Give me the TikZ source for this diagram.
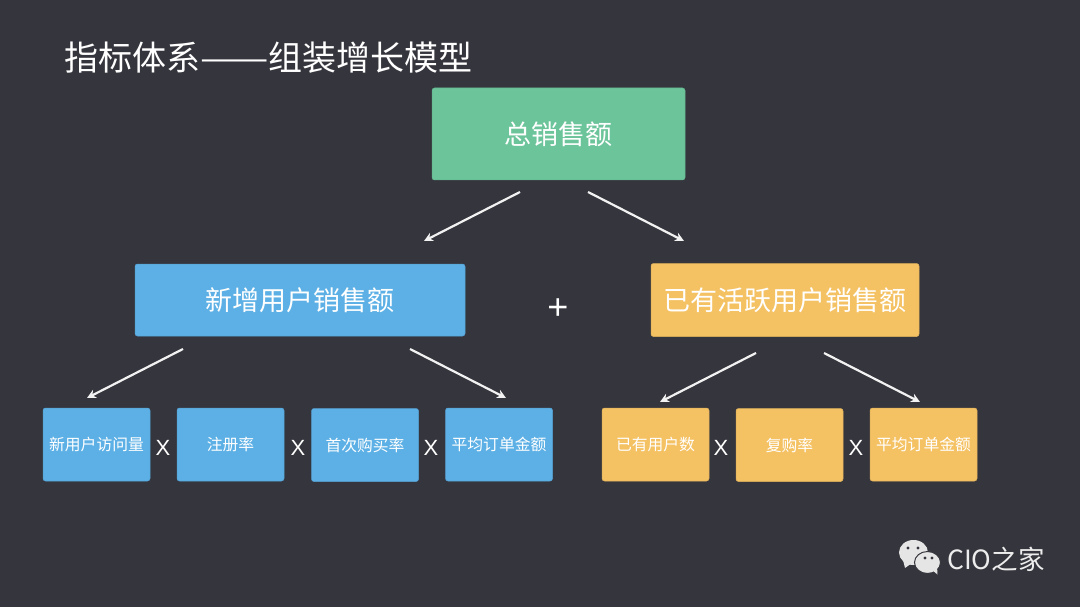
\documentclass[tikz,border=0pt]{standalone}
\usepackage{fontspec}
\setmainfont{Noto Sans CJK SC}
\newfontfamily\latinfont{Liberation Sans}
\usetikzlibrary{arrows.meta}
\definecolor{boardbg}{HTML}{35353D}
\definecolor{greenbox}{HTML}{6CC49A}
\definecolor{bluebox}{HTML}{5CB0E5}
\definecolor{yellowbox}{HTML}{F4C163}
\tikzset{
  box/.style={rectangle,rounded corners=2.5pt,draw=#1!92!black,line width=.5pt,fill=#1,text=white,inner sep=0pt,outer sep=0pt},
  bigbox/.style={box=#1,minimum height=72pt,font=\fontsize{27}{30}\selectfont},
  smallbox/.style={box=#1,minimum width=107pt,minimum height=73pt,font=\fontsize{15.8}{18}\selectfont},
  times/.style={text=white,inner sep=0pt,font=\latinfont\fontsize{22}{26}\selectfont},
  link/.style={draw=white!95!black,line width=2.2pt,-{Stealth[length=9pt,width=9pt]}},
}
\begin{document}
\begin{tikzpicture}[x=1pt,y=-1pt]
\useasboundingbox[fill=boardbg] (0,0) rectangle (1080,607);
\node [text=white,anchor=west,inner sep=0pt,font=\fontsize{34}{38}\selectfont] (title) at (64,58) {指标体系\scalebox{1.2}[1]{——}组装增长模型};

% top level
\node [bigbox=greenbox,minimum width=253pt,minimum height=92pt] (total) at (558.5,134) {总销售额};
\node [bigbox=bluebox,minimum width=330pt] (newuser) at (300,300) {新增用户销售额};
\node [bigbox=yellowbox,minimum width=268pt,minimum height=73pt] (olduser) at (785,300) {已有活跃用户销售额};
\node [text=white,inner sep=0pt,font=\latinfont\fontsize{36}{38}\selectfont] (plus) at (558,309) {+};

% factors of the new users
\node [smallbox=bluebox] (visit) at (96.5,444.5) {新用户访问量};
\node [smallbox=bluebox] (signup) at (230.5,444.5) {注册率};
\node [smallbox=bluebox] (firstbuy) at (365,445) {首次购买率};
\node [smallbox=bluebox] (avgnew) at (499,444.5) {平均订单金额};
\node [times] (xa) at (163,448) {X};
\node [times] (xb) at (298,448) {X};
\node [times] (xc) at (431,448) {X};

% factors of the active users
\node [smallbox=yellowbox] (users) at (655.5,444.5) {已有用户数};
\node [smallbox=yellowbox] (rebuy) at (789.5,445) {复购率};
\node [smallbox=yellowbox] (avgold) at (923.5,444.5) {平均订单金额};
\node [times] (xd) at (721,448) {X};
\node [times] (xe) at (856,448) {X};

% arrows stop short of the boxes
\coordinate (ta) at (520,192);
\coordinate (tb) at (588,192);
\coordinate (na) at (424,241);
\coordinate (oa) at (684,241);
\coordinate (nb) at (183,349);
\coordinate (nc) at (410,349);
\coordinate (vt) at (87,398);
\coordinate (at) at (506,398);
\coordinate (ob) at (756,353);
\coordinate (oc) at (824,353);
\coordinate (ut) at (660,402);
\coordinate (gt) at (920,402);
\draw [link] (ta) -- (na);
\draw [link] (tb) -- (oa);
\draw [link] (nb) -- (vt);
\draw [link] (nc) -- (at);
\draw [link] (ob) -- (ut);
\draw [link] (oc) -- (gt);

% chat icon and signature
\fill [white!90!black] (913.5,552.5) ellipse [x radius=14.5pt,y radius=12.5pt];
\fill [white!90!black] (903,560) -- (905,568) -- (912,563) -- cycle;
\fill [boardbg] (908,548) circle [radius=1.6pt] (918,548) circle [radius=1.6pt];
\fill [white!90!black,draw=boardbg,line width=1pt] (927.5,562.5) ellipse [x radius=13pt,y radius=11pt];
\fill [white!90!black] (932,570) -- (937.5,574.5) -- (937,566) -- cycle;
\fill [boardbg] (925,558) circle [radius=1.6pt] (932,558) circle [radius=1.6pt];
\node [text=white!93!black,anchor=west,inner sep=0pt,font=\fontsize{26.5}{30}\selectfont] (sign) at (947,559) {CIO之家};
\end{tikzpicture}
\end{document}
